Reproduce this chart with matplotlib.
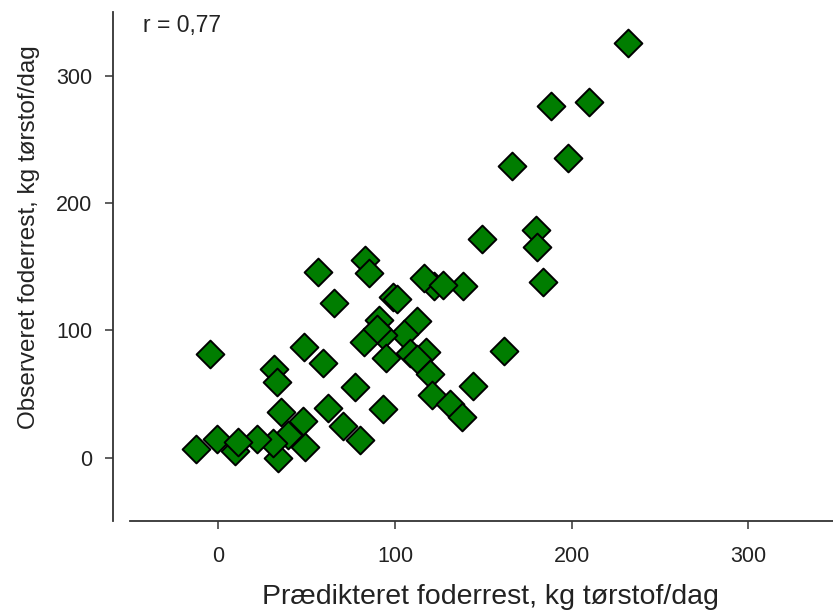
"""Observed vs predicted feed residue scatter."""

import matplotlib

matplotlib.use("Agg")
import matplotlib.pyplot as plt

plt.rcParams["font.family"] = ["Liberation Sans", "DejaVu Sans"]

# predicted (x) and observed (y) feed residue, kg dry matter/day
predicted = [
    231.8, 188.3, 209.6, 166.0, 198.0, 149.0, 179.8, 180.2, 183.6, 138.3,
    122.0, 116.4, 127.0, 56.5, 83.0, 85.4, 65.6, 99.0, 101.0, 112.4,
    91.0, 105.1, 93.5, 82.3, 89.6, 48.6, 95.0, 108.4, 117.5, 112.6,
    59.0, -5.0, 31.6, 33.3, 77.3, 35.4, 62.2, 93.3, 70.7, 80.1,
    48.0, 39.5, 49.0, 33.9, 31.0, 21.8, 9.3, -0.5, -12.5, 11.2,
    119.8, 120.7, 131.0, 137.7, 144.0, 161.7,
]
observed = [
    325.5, 276.6, 279.8, 229.0, 235.6, 172.0, 179.0, 165.5, 138.0, 135.0,
    135.0, 141.5, 135.5, 145.9, 155.0, 145.4, 121.9, 126.3, 125.0, 107.6,
    108.0, 97.5, 96.2, 90.6, 101.5, 87.3, 78.5, 81.9, 83.0, 77.2,
    74.0, 81.3, 69.3, 59.6, 55.7, 36.1, 39.0, 38.5, 24.5, 14.0,
    28.5, 17.5, 8.4, -0.5, 11.3, 14.5, 5.5, 14.8, 6.6, 12.5,
    65.6, 49.2, 42.0, 32.0, 56.2, 84.0,
]
x_ticks = [0, 100, 200, 300]
y_ticks = [0, 100, 200, 300]
r_text = "r = 0,77"

fig = plt.figure(figsize=(8.33, 6.15), dpi=100)
ax = fig.add_axes([0.1561, 0.1524, 0.8439, 0.8276])

ax.scatter(predicted, observed, marker="D", s=200, color="#007d00",
           edgecolors="black", linewidths=1.4, zorder=3)

ax.set_xlim(-50, 348)
ax.set_ylim(-50, 350)
ax.set_xticks(x_ticks)
ax.set_yticks(y_ticks)

for side in ("top", "right"):
    ax.spines[side].set_visible(False)
ax.spines["left"].set_position(("outward", 12))
for side in ("left", "bottom"):
    ax.spines[side].set_linewidth(1.3)
    ax.spines[side].set_color("#333333")

ax.tick_params(axis="both", direction="out", length=6, width=1.1,
               color="#333333", labelsize=15.5, labelcolor="#222222")
ax.tick_params(axis="x", pad=12)
ax.tick_params(axis="y", pad=9)

ax.set_xlabel("Prædikteret foderrest, kg tørstof/dag", fontsize=20.5,
              color="#222222", labelpad=12)
ax.set_ylabel("Observeret foderrest, kg tørstof/dag", fontsize=17.5,
              color="#222222", labelpad=12)
ax.xaxis.label.set_x(0.512)
ax.yaxis.label.set_y(0.558)

ax.text(0.018, 0.974, r_text, transform=ax.transAxes, fontsize=16.5,
        va="center", ha="left", color="#222222")

fig.savefig("out.png", dpi=100)
plt.close(fig)
